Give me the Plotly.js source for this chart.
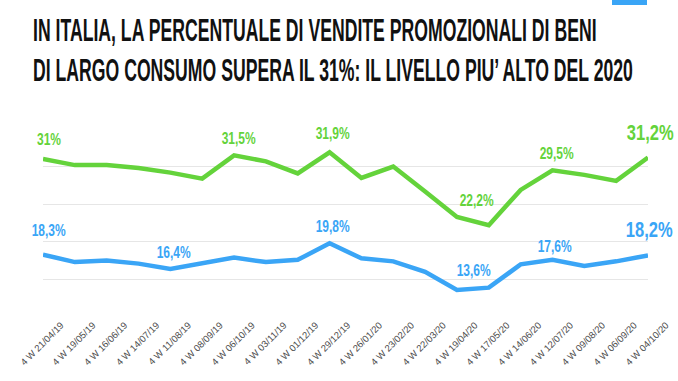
<!DOCTYPE html>
<html>
<head>
<meta charset="utf-8">
<script src="https://cdn.plot.ly/plotly-3.0.1.min.js"></script>
<style>
  html, body { margin: 0; padding: 0; background: #fff; }
  #chart { width: 678px; height: 381px; }
</style>
</head>
<body>
<div id="chart"></div>
<script>
var categories = ['4 W 21/04/19', '4 W 19/05/19', '4 W 16/06/19', '4 W 14/07/19', '4 W 11/08/19',
  '4 W 08/09/19', '4 W 06/10/19', '4 W 03/11/19', '4 W 01/12/19', '4 W 29/12/19',
  '4 W 26/01/20', '4 W 23/02/20', '4 W 22/03/20', '4 W 19/04/20', '4 W 17/05/20',
  '4 W 14/06/20', '4 W 12/07/20', '4 W 09/08/20', '4 W 06/09/20', '4 W 04/10/20'];

var greenValues = [31.0, 30.2, 30.2, 29.8, 29.2, 28.4, 31.5, 30.7, 29.1, 31.9,
  28.5, 30.0, 26.7, 23.3, 22.2, 26.9, 29.5, 28.9, 28.1, 31.2];
var blueValues = [18.3, 17.3, 17.5, 17.1, 16.4, 17.1, 17.9, 17.3, 17.6, 19.8,
  17.8, 17.4, 16.0, 13.6, 13.9, 17.0, 17.6, 16.8, 17.4, 18.2];

var greenLabelIdx = [0, 6, 9, 14, 16, 19];
var greenLabels = ['31%', '31,5%', '31,9%', '22,2%', '29,5%', '31,2%'];
var blueLabelIdx = [0, 4, 9, 13, 16, 19];
var blueLabels = ['18,3%', '16,4%', '19,8%', '13,6%', '17,6%', '18,2%'];

var titleText = 'IN ITALIA, LA PERCENTUALE DI VENDITE PROMOZIONALI DI BENI<br>DI LARGO CONSUMO SUPERA IL 31%: IL LIVELLO PIU’ ALTO DEL 2020';

// label placement styling (pixels)
var greenDx = [6, 4, 3, -12, 4, 2];
var greenDy = [9, 6, 8, 14, 6, 11];
var blueDx = [5, 3, 3, 17, 2, 1];
var blueDy = [14, 6, 6, 9, 3, 11];

var GREEN = '#64d33b';
var BLUE = '#3aa5f6';
var LABEL_FONT = 'Liberation Sans Narrow, Arial Narrow, Liberation Sans, Arial, sans-serif';

var traces = [
  {x: categories, y: greenValues, type: 'scatter', mode: 'lines',
   line: {color: GREEN, width: 4.5}, cliponaxis: false, hoverinfo: 'skip'},
  {x: categories, y: blueValues, type: 'scatter', mode: 'lines',
   line: {color: BLUE, width: 4.5}, cliponaxis: false, hoverinfo: 'skip'}
];

var annotations = [];
function addLabels(idx, labels, values, color, dx, dy) {
  for (var i = 0; i < idx.length; i++) {
    var big = (i === idx.length - 1);
    annotations.push({
      x: categories[idx[i]], y: values[idx[i]], xref: 'x', yref: 'y',
      text: labels[i], showarrow: false, xanchor: 'center', yanchor: 'bottom',
      xshift: dx[i], yshift: dy[i],
      font: {family: LABEL_FONT, size: big ? 22 : 16, color: color, weight: 'bold'}
    });
  }
}
addLabels(greenLabelIdx, greenLabels, greenValues, GREEN, greenDx, greenDy);
addLabels(blueLabelIdx, blueLabels, blueValues, BLUE, blueDx, blueDy);

var layout = {
  width: 678, height: 381,
  margin: {l: 43, r: 30, t: 129, b: 64},
  paper_bgcolor: '#fff', plot_bgcolor: '#fff',
  showlegend: false,
  title: {
    text: titleText,
    xref: 'container', x: 33 / 678, xanchor: 'left',
    yref: 'container', y: 0.892, yanchor: 'top',
    font: {family: LABEL_FONT, size: 31, color: '#111', weight: 'bold'}
  },
  xaxis: {
    type: 'category', range: [0, 19],
    showgrid: false, zeroline: false, showline: false,
    ticks: '', tickangle: -45, ticklabelshift: 18,
    tickfont: {family: 'Liberation Sans, Arial, sans-serif', size: 9.5, color: '#4a4a4a'}
  },
  yaxis: {
    range: [10, 35], tick0: 10, dtick: 5,
    showticklabels: false, ticks: '',
    showgrid: true, gridcolor: '#e6e6e6', gridwidth: 1.3,
    zeroline: false, showline: false
  },
  shapes: [{
    type: 'rect', xref: 'paper', yref: 'paper',
    x0: (612 - 43) / 605, x1: (647 - 43) / 605, y0: (317 - 5) / 188, y1: 317 / 188 + 0.2,
    fillcolor: BLUE, line: {width: 0}
  }],
  annotations: annotations
};

function squeeze(el, s, cx) {
  var prev = el.getAttribute('transform') || '';
  el.setAttribute('transform', prev + ' translate(' + cx + ',0) scale(' + s + ',1) translate(' + (-cx) + ',0)');
}

Plotly.newPlot('chart', traces, layout, {displayModeBar: false, staticPlot: true}).then(function (gd) {
  var t = gd.querySelector('.gtitle');
  if (t) {
    var w = t.getBBox().width;
    var x0 = parseFloat(t.getAttribute('x')) || 33;
    squeeze(t, 600 / w, x0);
  }
  var labels = gd.querySelectorAll('.annotation-text-g text');
  for (var i = 0; i < labels.length; i++) {
    var b = labels[i].getBBox();
    squeeze(labels[i], 0.75, b.x + b.width / 2);
  }
});
</script>
</body>
</html>
